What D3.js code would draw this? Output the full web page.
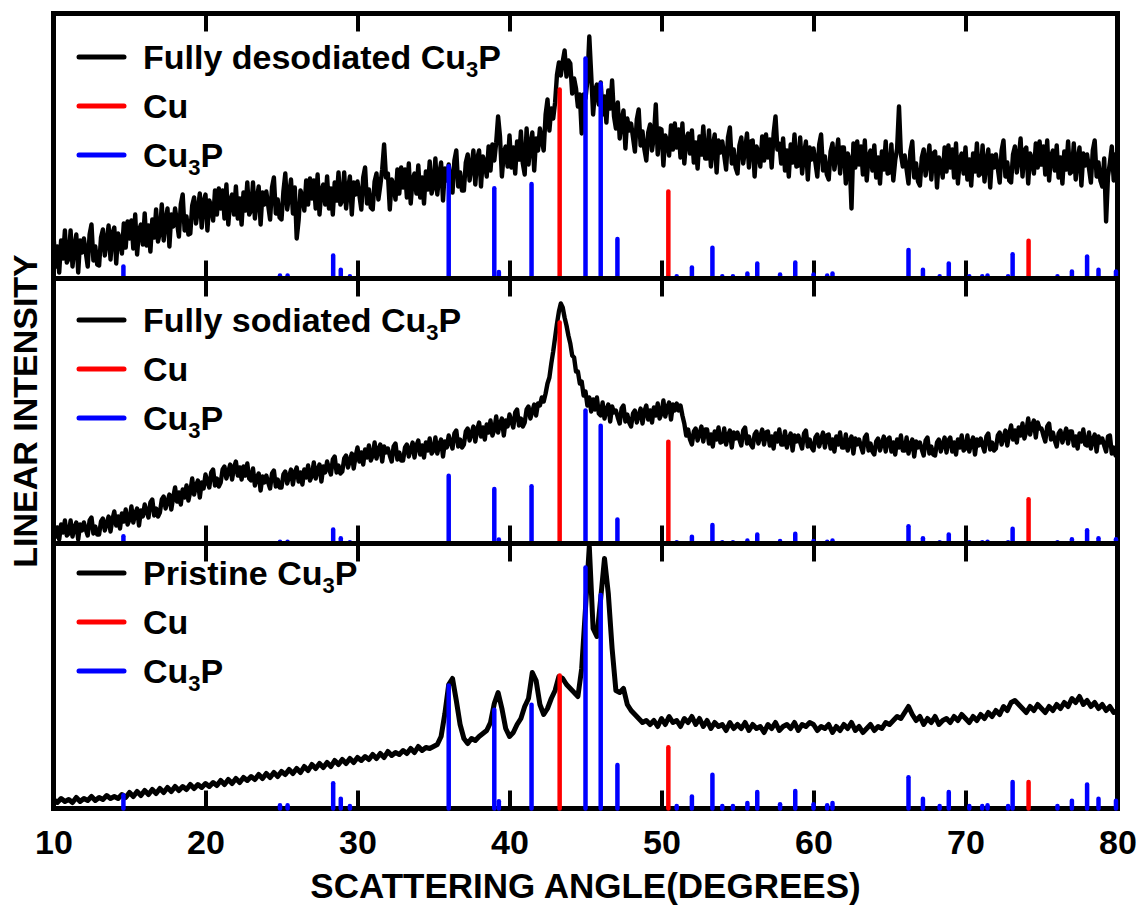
<!DOCTYPE html>
<html>
<head>
<meta charset="utf-8">
<script src="https://cdn.jsdelivr.net/npm/d3@7"></script>
<style>
  body { margin: 0; background: #fff; }
  svg text { font-family: "Liberation Sans", Arial, Helvetica, sans-serif; font-weight: bold; fill: #000; }
</style>
</head>
<body>
<div id="chart"></div>
<script>
// XRD patterns starting at 10 deg, intensity in arbitrary units (0-265 per panel)
const angleStart = 10;

// 0.125 deg steps, one row per degree
const desodiated = [
  44, 12, 32, 6, 38, 20, 48, 16,
  20, 48, 12, 32, 44, 6, 38, 26,
  40, 26, 12, 44, 54, 18, 32, 14,
  13, 41, 49, 23, 37, 53, 19, 45,
  51, 15, 45, 39, 25, 55, 31, 57,
  40, 58, 30, 64, 24, 48, 54, 34,
  65, 33, 53, 27, 59, 41, 69, 37,
  46, 74, 38, 58, 70, 32, 64, 52,
  70, 56, 42, 74, 84, 48, 62, 44,
  45, 73, 81, 55, 69, 85, 51, 77,
  84, 48, 78, 72, 58, 88, 64, 90,
  70, 88, 60, 94, 54, 78, 84, 64,
  92, 60, 80, 54, 86, 68, 96, 64,
  68, 96, 60, 80, 92, 54, 86, 74,
  87, 73, 59, 91, 101, 65, 79, 61,
  59, 87, 105, 69, 83, 99, 65, 91,
  40, 58, 88, 82, 68, 98, 74, 100,
  80, 98, 70, 104, 64, 88, 94, 74,
  102, 70, 90, 64, 96, 78, 106, 74,
  78, 106, 70, 90, 102, 64, 96, 84,
  97, 83, 69, 101, 111, 75, 89, 71,
  69, 97, 105, 79, 93, 109, 134, 101,
  105, 69, 99, 93, 79, 109, 85, 111,
  91, 109, 81, 115, 75, 99, 105, 85,
  113, 81, 101, 75, 107, 89, 117, 85,
  92, 120, 84, 104, 116, 78, 110, 98,
  114, 100, 86, 118, 128, 92, 106, 88,
  88, 116, 124, 98, 112, 128, 94, 120,
  128, 92, 122, 116, 102, 132, 108, 134,
  118, 136, 162, 142, 102, 126, 132, 112,
  143, 111, 131, 105, 137, 119, 147, 115,
  104, 150, 114, 134, 146, 108, 140, 128,
  150, 138, 128, 164, 179, 148, 170, 160,
  176, 204, 216, 203, 217, 228, 202, 218,
  215, 185, 200, 190, 172, 184, 145, 184,
  180, 198, 242, 204, 164, 188, 194, 174,
  196, 164, 182, 156, 188, 170, 198, 162,
  150, 176, 140, 158, 168, 130, 160, 148,
  155, 141, 127, 159, 169, 133, 147, 129,
  118, 146, 154, 128, 142, 174, 124, 150,
  149, 113, 143, 137, 123, 153, 129, 155,
  131, 149, 121, 155, 115, 139, 145, 125,
  148, 116, 136, 110, 142, 124, 152, 120,
  120, 148, 112, 132, 144, 106, 138, 126,
  137, 123, 109, 141, 151, 115, 129, 111,
  105, 133, 141, 115, 129, 145, 111, 137,
  138, 102, 132, 126, 112, 142, 118, 144,
  121, 139, 111, 145, 162, 129, 135, 115,
  140, 108, 128, 102, 134, 116, 144, 112,
  113, 141, 105, 125, 137, 99, 131, 119,
  130, 116, 102, 134, 144, 108, 122, 104,
  99, 127, 135, 109, 123, 139, 105, 131,
  131, 95, 125, 119, 70, 135, 111, 137,
  114, 132, 104, 138, 98, 122, 128, 108,
  133, 101, 121, 95, 127, 109, 137, 105,
  106, 134, 98, 118, 130, 172, 124, 112,
  123, 109, 95, 127, 137, 101, 115, 97,
  93, 121, 129, 103, 117, 133, 99, 125,
  127, 91, 121, 115, 101, 131, 107, 133,
  111, 129, 101, 135, 95, 119, 125, 105,
  131, 99, 119, 93, 125, 107, 135, 103,
  105, 133, 97, 117, 129, 91, 123, 111,
  124, 110, 96, 128, 138, 102, 116, 98,
  96, 124, 132, 106, 120, 140, 102, 128,
  131, 95, 125, 119, 105, 135, 111, 137,
  114, 132, 104, 138, 98, 122, 128, 108,
  133, 101, 121, 95, 127, 109, 137, 105,
  107, 135, 99, 119, 131, 93, 125, 113,
  124, 110, 96, 128, 138, 102, 116, 98,
  92, 120, 57, 102, 116, 132, 98, 124,
  126
];

// 0.125 deg steps, one row per degree
const sodiated = [
  21, 7, 16, 4, 19, 11, 23, 8,
  10, 23, 7, 16, 21, 4, 19, 13,
  21, 14, 8, 23, 26, 10, 17, 9,
  9, 22, 25, 13, 20, 27, 12, 24,
  32, 18, 27, 15, 30, 22, 34, 19,
  24, 37, 21, 30, 35, 18, 33, 27,
  39, 32, 26, 41, 44, 28, 35, 27,
  31, 44, 47, 35, 42, 49, 34, 46,
  56, 42, 51, 39, 54, 46, 58, 43,
  52, 65, 49, 58, 63, 46, 61, 55,
  69, 62, 56, 71, 74, 58, 65, 57,
  61, 74, 77, 65, 72, 79, 64, 76,
  82, 68, 76, 64, 77, 68, 80, 65,
  63, 75, 58, 66, 70, 53, 67, 61,
  68, 61, 55, 70, 73, 57, 64, 56,
  56, 69, 72, 60, 67, 74, 59, 71,
  76, 62, 71, 59, 74, 66, 78, 63,
  68, 81, 65, 74, 79, 62, 77, 71,
  82, 75, 69, 84, 87, 71, 78, 70,
  72, 85, 88, 76, 83, 90, 75, 87,
  96, 82, 91, 79, 94, 86, 98, 83,
  88, 101, 85, 94, 99, 82, 97, 91,
  95, 88, 82, 97, 100, 84, 91, 83,
  83, 96, 99, 87, 94, 101, 86, 98,
  103, 89, 98, 86, 101, 93, 105, 90,
  93, 106, 90, 99, 104, 87, 102, 96,
  108, 101, 95, 110, 113, 97, 104, 96,
  99, 112, 115, 103, 110, 117, 102, 114,
  121, 107, 116, 104, 119, 111, 123, 108,
  114, 127, 111, 120, 125, 108, 123, 117,
  129, 122, 116, 131, 134, 118, 125, 117,
  121, 134, 137, 125, 132, 139, 128, 140,
  138, 146, 142, 150, 160, 166, 180, 192,
  206, 220, 232, 240, 236, 226, 218, 208,
  200, 188, 186, 172, 172, 160, 162, 148,
  152, 138, 146, 132, 144, 134, 146, 130,
  128, 141, 125, 134, 139, 122, 137, 131,
  133, 126, 120, 135, 138, 122, 129, 121,
  117, 130, 133, 121, 128, 135, 120, 132,
  138, 124, 133, 121, 136, 128, 140, 125,
  130, 143, 127, 136, 141, 124, 139, 133,
  140, 133, 138, 128, 120, 108, 114, 104,
  99, 112, 115, 103, 110, 117, 102, 114,
  114, 100, 109, 97, 112, 104, 116, 101,
  102, 115, 99, 108, 113, 96, 111, 105,
  111, 104, 98, 113, 116, 100, 107, 99,
  96, 109, 112, 100, 107, 114, 99, 111,
  112, 98, 107, 95, 110, 102, 114, 99,
  99, 112, 96, 105, 110, 93, 108, 102,
  108, 101, 95, 110, 113, 97, 104, 96,
  93, 106, 109, 97, 104, 111, 96, 108,
  109, 95, 104, 92, 107, 99, 111, 96,
  96, 109, 93, 102, 107, 90, 105, 99,
  104, 97, 91, 106, 109, 93, 100, 92,
  89, 102, 105, 93, 100, 107, 92, 104,
  106, 92, 101, 89, 104, 96, 108, 93,
  93, 106, 90, 99, 104, 87, 102, 96,
  101, 94, 88, 103, 106, 90, 97, 89,
  88, 101, 104, 92, 99, 106, 91, 103,
  106, 92, 101, 89, 104, 96, 108, 93,
  95, 108, 92, 101, 106, 89, 104, 98,
  105, 98, 92, 107, 110, 94, 101, 93,
  95, 108, 111, 99, 106, 113, 98, 110,
  118, 104, 113, 101, 116, 108, 120, 105,
  112, 125, 109, 118, 123, 106, 121, 115,
  115, 108, 102, 117, 120, 104, 111, 103,
  97, 110, 113, 101, 108, 115, 100, 112,
  112, 98, 107, 95, 110, 102, 114, 99,
  98, 111, 95, 104, 109, 92, 107, 101,
  105, 98, 92, 107, 108, 90, 96, 88,
  95
];

// 0.25 deg steps, one row per 5 degrees
const pristine = [
  9, 6, 10, 7, 9, 6, 11, 7, 10, 8, 12, 8, 11, 9, 13, 10, 12, 10, 14, 11,
  16, 12, 17, 13, 18, 14, 19, 15, 20, 16, 21, 17, 22, 18, 22, 19, 24, 20, 24, 21,
  25, 22, 26, 23, 28, 24, 29, 25, 30, 26, 31, 28, 32, 29, 34, 30, 35, 31, 36, 32,
  37, 34, 39, 35, 40, 36, 42, 38, 44, 40, 45, 41, 46, 42, 48, 44, 49, 45, 50, 46,
  51, 48, 52, 49, 54, 50, 55, 51, 57, 53, 56, 54, 58, 55, 60, 56, 62, 58, 61, 60,
  62, 64, 72, 95, 124, 130, 108, 84, 70, 65, 70, 68, 72, 75, 78, 86, 105, 116, 100, 80,
  72, 76, 84, 90, 102, 110, 136, 128, 104, 94, 100, 110, 118, 132, 130, 124, 120, 116, 112, 140,
  200, 262, 180, 172, 210, 250, 215, 160, 118, 116, 120, 104, 98, 94, 90, 86, 88, 84, 88, 82,
  90, 84, 92, 86, 88, 82, 90, 86, 92, 84, 90, 82, 88, 80, 86, 82, 84, 78, 86, 80,
  84, 80, 86, 78, 84, 80, 82, 76, 84, 80, 86, 78, 82, 84, 80, 86, 78, 84, 82, 86,
  84, 78, 82, 80, 84, 76, 82, 78, 84, 80, 86, 78, 82, 76, 80, 84, 78, 82, 80, 86,
  84, 88, 92, 90, 96, 102, 94, 88, 92, 84, 90, 86, 92, 84, 88, 90, 86, 92, 88, 94,
  90, 86, 92, 88, 94, 90, 96, 92, 98, 94, 102, 98, 106, 108, 104, 100, 96, 102, 98, 104,
  100, 96, 102, 98, 104, 100, 106, 102, 110, 106, 112, 104, 108, 102, 106, 100, 104, 98, 102, 96,
  98
];

// reference patterns (position in deg, relative intensity %)
const cu3pPeaks = [14.6, 24.9, 25.4, 28.4, 28.9, 29.5, 36.0, 39.0, 39.3, 41.45, 45.0, 46.0, 47.1,
  51.0, 52.0, 53.35, 54.0, 54.7, 55.65, 56.3, 57.8, 58.8, 60.0, 60.9, 61.25, 66.25, 67.2, 68.3,
  68.9, 70.25, 71.1, 71.45, 72.8, 73.1, 76.05, 77.0, 78.0, 78.75, 79.9];
const cu3pRel = [5.5, 1.4, 1.4, 10.5, 4, 1, 51, 41, 3, 43, 100, 88.6, 18,
  1, 5, 14, 1, 1, 2.3, 6.8, 1.8, 7.3, 1.8, 1.4, 2.3, 13, 4, 1,
  6.8, 1, 1, 1.4, 1, 11, 1, 3.2, 10, 4, 3.2];
const cuPeaks = [43.3, 50.45, 74.15];
const cuRel = [100, 46, 20];

// per panel: sample name, data step and how tall the 100% reference stick is drawn
const sampleNames = ["Fully desodiated", "Fully sodiated", "Pristine"];
const angleSteps = [0.125, 0.125, 0.25];
const cu3pScale = [220, 133, 241];
const cuScale = [189, 221, 133];
const xTicks = [10, 20, 30, 40, 50, 60, 70, 80];

const W = 1142, H = 907;
const M = { left: 53.5, right: 24.5, top: 13.5 };
const panelH = 265;
const RED = "#ff0000", BLUE = "#0000ff";

const svg = d3.select("#chart").append("svg").attr("width", W).attr("height", H);
const x = d3.scaleLinear().domain([10, 80]).range([M.left, W - M.right]);

const series = [desodiated, sodiated, pristine];
const legendTop = [43.5, 41.5, 29.5];
const curveWidth = [4.4, 4.4, 5];

series.forEach((vals, i) => {
  const top = M.top + i * panelH, bottom = top + panelH;
  const y = d3.scaleLinear().domain([0, 265]).range([bottom, top]);
  const g = svg.append("g").attr("class", "panel");

  const pts = vals.map((v, k) => [angleStart + k * angleSteps[i], v]);
  g.append("path").datum(pts)
    .attr("d", d3.line().x((d) => x(d[0])).y((d) => y(d[1])))
    .attr("fill", "none").attr("stroke", "#000")
    .attr("stroke-width", curveWidth[i]).attr("stroke-linejoin", "round");

  g.append("rect")
    .attr("x", x(10)).attr("y", top)
    .attr("width", x(80) - x(10)).attr("height", panelH)
    .attr("fill", "none").attr("stroke", "#000").attr("stroke-width", 5);

  const inner = xTicks.filter((t) => t > 10 && t < 80);
  const topAx = g.append("g").attr("transform", `translate(0,${top})`)
    .call(d3.axisBottom(x).tickValues(inner).tickSize(18).tickFormat(""));
  const botAx = g.append("g").attr("transform", `translate(0,${bottom})`)
    .call(d3.axisTop(x).tickValues(inner).tickSize(18).tickFormat(""));
  [topAx, botAx].forEach((a) => {
    a.select(".domain").remove();
    a.selectAll(".tick line").attr("stroke", "#000").attr("stroke-width", 4);
  });

  // reference sticks
  const sticks = cu3pPeaks.map((p, k) => ({ p, h: cu3pRel[k] / 100 * cu3pScale[i], c: BLUE }))
    .concat(cuPeaks.map((p, k) => ({ p, h: cuRel[k] / 100 * cuScale[i], c: RED })));
  g.selectAll("line.stick").data(sticks).enter().append("line")
    .attr("class", "stick")
    .attr("x1", (d) => x(d.p)).attr("x2", (d) => x(d.p))
    .attr("y1", y(0)).attr("y2", (d) => y(d.h))
    .attr("stroke", (d) => d.c).attr("stroke-width", 4.5).attr("stroke-linecap", "round");

  // legend
  const leg = [
    { c: "#000", label: sampleNames[i] + " Cu", sub: true },
    { c: RED, label: "Cu", sub: false },
    { c: BLUE, label: "Cu", sub: true },
  ];
  leg.forEach((d, k) => {
    const ly = top + legendTop[i] + k * 49;
    g.append("line").attr("x1", 79).attr("x2", 124).attr("y1", ly).attr("y2", ly)
      .attr("stroke", d.c).attr("stroke-width", 5).attr("stroke-linecap", "round");
    const t = g.append("text").attr("x", 143).attr("y", ly + 12).attr("font-size", 34).text(d.label);
    if (d.sub) {
      t.append("tspan").attr("font-size", 22).attr("dy", 8).text("3");
      t.append("tspan").attr("dy", -8).text("P");
    }
  });
});

// bottom axis labels
const bottomY = M.top + 3 * panelH;
const xAx = svg.append("g").attr("transform", `translate(0,${bottomY})`)
  .call(d3.axisBottom(x).tickValues(xTicks).tickSize(0).tickPadding(21));
xAx.select(".domain").remove();
xAx.selectAll("text").attr("font-size", 34).attr("font-family", null);

svg.append("text").attr("x", x(45)).attr("y", 898)
  .attr("text-anchor", "middle").attr("font-size", 35)
  .text("SCATTERING ANGLE(DEGREES)");

svg.append("text")
  .attr("transform", `translate(37,${M.top + 1.5 * panelH}) rotate(-90)`)
  .attr("text-anchor", "middle").attr("font-size", 34)
  .text("LINEAR INTENSITY");
</script>
</body>
</html>
